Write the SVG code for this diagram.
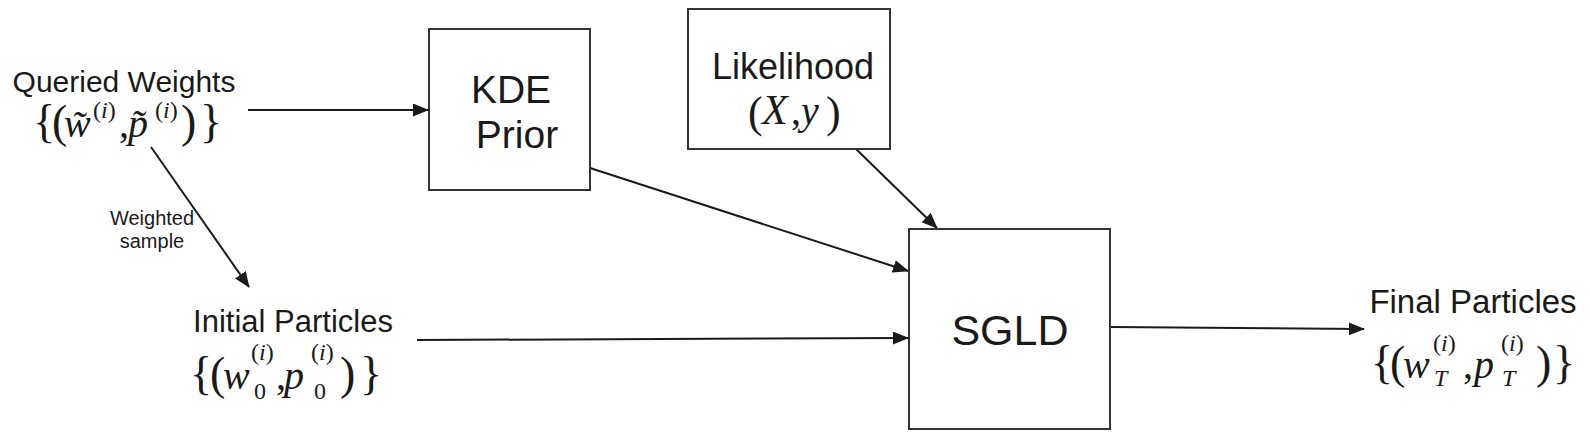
<svg xmlns="http://www.w3.org/2000/svg" width="1590" height="440" viewBox="0 0 1590 440">
<style>
.box{fill:#fff;stroke:#333;stroke-width:2}
.lbl{font-family:"Liberation Sans",Arial,sans-serif;fill:#1a1a1a}
.m{font-family:"Liberation Serif","Times New Roman",serif;fill:#1a1a1a;font-size:40px;font-style:normal}
.br{font-size:46px}
.v{font-size:40px;font-style:italic}
.s{font-size:24px}
.it{font-style:italic}
.conn{stroke:#1a1a1a;stroke-width:2;fill:none;marker-end:url(#arr)}
</style>
<defs>
<marker id="arr" markerUnits="userSpaceOnUse" markerWidth="16" markerHeight="14" refX="15" refY="6.5" orient="auto">
<path d="M0,0 L16,6.5 L0,13 z" fill="#1a1a1a"/>
</marker>
</defs>
<rect width="1590" height="440" fill="#fff"/>

<g id="connectors">
<path class="conn" d="M248,110 L428,110"/>
<path class="conn" d="M151,147 L249,287"/>
<path class="conn" d="M590,168 L908,271"/>
<path class="conn" d="M856,149 L937,228"/>
<path class="conn" d="M417,340 L908,338"/>
<path class="conn" d="M1110,327 L1364,329"/>
<text class="lbl" font-size="20" text-anchor="middle" x="152" y="225">Weighted</text>
<text class="lbl" font-size="20" text-anchor="middle" x="152" y="248">sample</text>
</g>

<g id="queried">
<text class="lbl" font-size="30" text-anchor="middle" x="124" y="92">Queried Weights</text>
<text class="m"><tspan class="br" x="33" y="137">{</tspan><tspan class="br" x="52" y="137">(</tspan><tspan class="v" x="64" y="137">w̃</tspan><tspan class="s" x="93" y="118">(</tspan><tspan class="s it">i</tspan><tspan class="s">)</tspan><tspan x="119" y="137">,</tspan><tspan class="v" x="128" y="137">p̃</tspan><tspan class="s" x="155" y="118">(</tspan><tspan class="s it">i</tspan><tspan class="s">)</tspan><tspan class="br" x="181" y="137">)</tspan><tspan class="br" x="200" y="137">}</tspan></text>
</g>

<g id="kde">
<rect class="box" x="429" y="29" width="161" height="161"/>
<text class="lbl" font-size="39" text-anchor="middle" x="511" y="103">KDE</text>
<text class="lbl" font-size="39" text-anchor="middle" x="517" y="148">Prior</text>
</g>

<g id="likelihood">
<rect class="box" x="688" y="9" width="202" height="140"/>
<text class="lbl" font-size="36" text-anchor="middle" x="793" y="79">Likelihood</text>
<text class="m"><tspan font-size="44" x="748" y="127">(</tspan><tspan class="it" font-size="42" x="762" y="124">X</tspan><tspan x="791" y="124">,</tspan><tspan class="v" x="801" y="124">y</tspan><tspan font-size="44" x="826" y="127">)</tspan></text>
</g>

<g id="sgld">
<rect class="box" x="909" y="229" width="201" height="200"/>
<text class="lbl" font-size="43" text-anchor="middle" x="1010" y="345">SGLD</text>
</g>

<g id="initial">
<text class="lbl" font-size="31" text-anchor="middle" x="293" y="332">Initial Particles</text>
<text class="m"><tspan class="br" x="190" y="389">{</tspan><tspan class="br" x="210" y="389">(</tspan><tspan class="v" x="223" y="389">w</tspan><tspan class="s" x="251" y="360">(</tspan><tspan class="s it">i</tspan><tspan class="s">)</tspan><tspan class="s" x="254" y="399">0</tspan><tspan x="276" y="389">,</tspan><tspan class="v" x="284" y="389">p</tspan><tspan class="s" x="311" y="360">(</tspan><tspan class="s it">i</tspan><tspan class="s">)</tspan><tspan class="s" x="314" y="399">0</tspan><tspan class="br" x="340" y="389">)</tspan><tspan class="br" x="360" y="389">}</tspan></text>
</g>

<g id="final">
<text class="lbl" font-size="33" text-anchor="middle" x="1473" y="313">Final Particles</text>
<text class="m"><tspan class="br" x="1371" y="378">{</tspan><tspan class="br" x="1390" y="378">(</tspan><tspan class="v" x="1403" y="378">w</tspan><tspan class="s" x="1433" y="351">(</tspan><tspan class="s it">i</tspan><tspan class="s">)</tspan><tspan class="s it" x="1434" y="386">T</tspan><tspan x="1463" y="378">,</tspan><tspan class="v" x="1474" y="378">p</tspan><tspan class="s" x="1501" y="351">(</tspan><tspan class="s it">i</tspan><tspan class="s">)</tspan><tspan class="s it" x="1502" y="386">T</tspan><tspan class="br" x="1536" y="378">)</tspan><tspan class="br" x="1553" y="378">}</tspan></text>
</g>
</svg>
